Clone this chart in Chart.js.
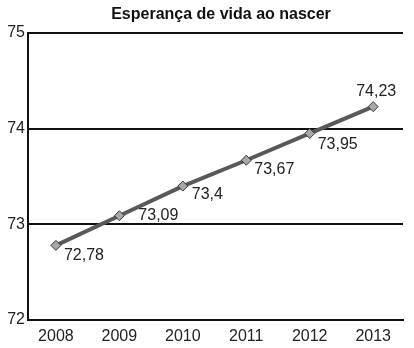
<!DOCTYPE html>
<html>
<head>
<meta charset="utf-8">
<script src="https://cdn.jsdelivr.net/npm/chart.js@4/dist/chart.umd.min.js"></script>
<style>
  html, body { margin: 0; padding: 0; background: #fff; }
  #wrap { width: 414px; height: 348px; }
</style>
</head>
<body>
<div id="wrap"><canvas id="c" width="414" height="348"></canvas></div>
<script>
const years = [2008, 2009, 2010, 2011, 2012, 2013];
const lifeExpectancy = [72.78, 73.09, 73.4, 73.67, 73.95, 74.23];
const valueLabels = ['72,78', '73,09', '73,4', '73,67', '73,95', '74,23'];
const yTicks = [72, 73, 74, 75];
const titleText = 'Esperança de vida ao nascer';

const FONT = '"Liberation Sans", Arial, sans-serif';

// label placement relative to each marker: [dx, dy, align]
const labelOffsets = [
  [8, 10, 'left'], [19, 0, 'left'], [9, 9, 'left'],
  [8, 9, 'left'], [8, 11, 'left'], [3, -15, 'center']
];

// Value labels beside each marker, plus the heading
const labelPlugin = {
  id: 'valueLabels',
  afterDatasetsDraw(chart) {
    const ctx = chart.ctx;
    const meta = chart.getDatasetMeta(0);
    ctx.save();
    ctx.font = '16px ' + FONT;
    ctx.fillStyle = '#222';
    ctx.textBaseline = 'middle';
    meta.data.forEach((pt, i) => {
      const [dx, dy, align] = labelOffsets[i];
      ctx.textAlign = align;
      ctx.fillText(valueLabels[i], pt.x + dx, pt.y + dy);
    });
    ctx.font = 'bold 16px ' + FONT;
    ctx.textAlign = 'center';
    ctx.fillStyle = '#111';
    ctx.fillText(titleText, 221, 15);
    ctx.restore();
  }
};

new Chart(document.getElementById('c'), {
  type: 'line',
  data: {
    datasets: [{
      data: years.map((yr, i) => ({ x: yr, y: lifeExpectancy[i] })),
      borderColor: '#595959',
      borderWidth: 4,
      pointStyle: 'rectRot',
      pointRadius: 5,
      pointBackgroundColor: '#a8a8a8',
      pointBorderColor: '#333',
      pointBorderWidth: 1,
      tension: 0
    }]
  },
  options: {
    responsive: false,
    animation: false,
    layout: { padding: { top: 33, right: 11, bottom: 0, left: 0 } },
    plugins: { legend: { display: false }, title: { display: false }, tooltip: { enabled: false } },
    scales: {
      x: {
        type: 'linear',
        min: 2007.56,
        max: 2013.47,
        afterBuildTicks(s) { s.ticks = years.map(v => ({ value: v })); },
        grid: { display: false, drawTicks: false },
        border: { display: true, color: '#111', width: 2 },
        ticks: { color: '#222', font: { family: FONT, size: 16 }, padding: 7, callback: v => String(v) },
        afterFit(s) { s.height = 28; }
      },
      y: {
        min: 72, max: 75,
        afterBuildTicks(s) { s.ticks = yTicks.map(v => ({ value: v })); },
        grid: {
          color: (c) => c.tick && c.tick.value === 72 ? 'rgba(0,0,0,0)' : '#111',
          lineWidth: 2,
          drawTicks: false
        },
        border: { display: true, color: '#111', width: 2 },
        ticks: { color: '#222', font: { family: FONT, size: 16 }, padding: 3 },
        afterFit(s) { s.width = 28; }
      }
    }
  },
  plugins: [labelPlugin]
});
</script>
</body>
</html>
